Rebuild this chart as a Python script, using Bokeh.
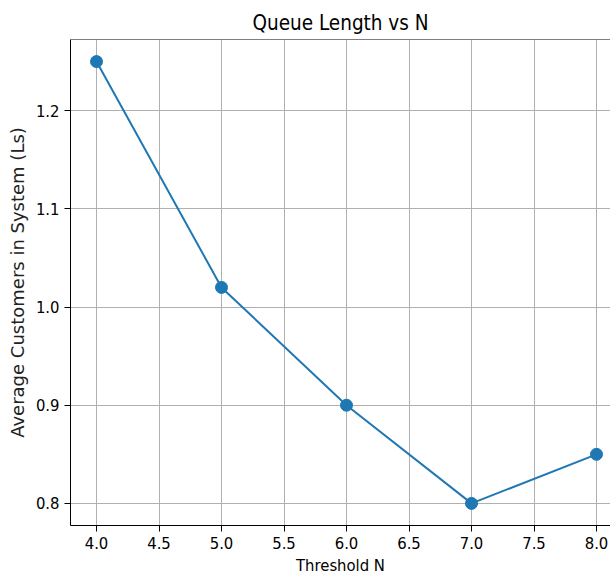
from bokeh.plotting import figure
from bokeh.models import Range1d, SingleIntervalTicker, Span, PrintfTickFormatter
from bokeh.embed import file_html
from bokeh.resources import INLINE

threshold_n = [4, 5, 6, 7, 8]
avg_customers = [1.25, 1.02, 0.90, 0.80, 0.85]

COND = "DejaVu Sans Condensed"

p = figure(frame_width=540, frame_height=486, output_backend="svg", toolbar_location=None,
           x_range=Range1d(3.792, 8.112), y_range=Range1d(0.7775, 1.2725),
           title="Queue Length vs N", min_border_right=0, min_border_top=39,
           min_border_left=70, min_border_bottom=0)
p.title.align = "center"
p.title.text_font = COND
p.title.text_font_size = "20.5px"
p.title.text_font_style = "normal"
p.title.text_color = "black"

p.outline_line_color = None
p.add_layout(Span(location=1.2725, dimension="width", line_color="black", line_width=1))

p.xaxis.ticker = SingleIntervalTicker(interval=0.5, num_minor_ticks=0)
p.yaxis.ticker = SingleIntervalTicker(interval=0.1, num_minor_ticks=0)
p.xaxis.formatter = PrintfTickFormatter(format="%.1f")
p.yaxis.formatter = PrintfTickFormatter(format="%.1f")
p.xaxis.axis_label = "Threshold N"
p.yaxis.axis_label = "Average Customers in System (Ls)"
for ax in (p.xaxis, p.yaxis):
    ax.major_label_text_font = COND
    ax.major_label_text_font_size = "16.5px"
    ax.major_label_text_color = "black"
    ax.axis_line_color = "black"
    ax.major_tick_line_color = "black"
    ax.major_tick_out = 6
    ax.major_tick_in = 0
    ax.minor_tick_line_color = None
    ax.axis_label_text_font_style = "normal"
    ax.axis_label_text_color = "black"
p.xaxis.axis_label_text_font = COND
p.xaxis.axis_label_text_font_size = "16.5px"
p.xaxis.axis_label_standoff = 4
p.yaxis.axis_label_text_font = "DejaVu Sans"
p.yaxis.axis_label_text_font_size = "18px"
p.yaxis.axis_label_text_color = "#222222"

p.grid.grid_line_color = "#b0b0b0"
p.grid.grid_line_width = 1

p.line(threshold_n, avg_customers, line_color="#1f77b4", line_width=2)
p.scatter(threshold_n, avg_customers, size=12, fill_color="#1f77b4", line_color="#1f77b4")

open("out.html", "w").write(file_html(p, INLINE))
